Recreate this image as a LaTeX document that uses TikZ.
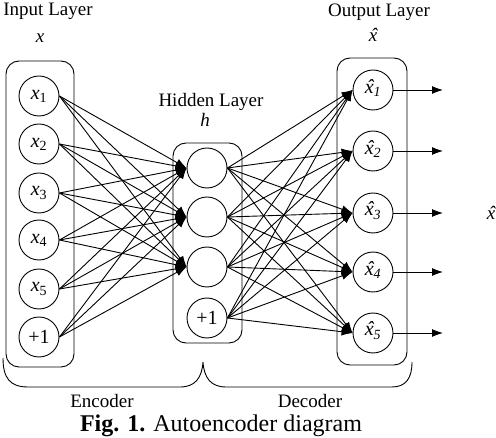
\documentclass[tikz,border=0pt]{standalone}
\usepackage{fontspec}
\setmainfont{Liberation Serif}
\usetikzlibrary{arrows.meta}
\tikzset{
  neuron/.style={circle,draw,line width=0.9pt,minimum size=40pt,inner sep=0pt,font=\fontsize{20}{22}\selectfont},
  layerbox/.style={draw,line width=0.9pt,rounded corners=13pt},
  lbl/.style={anchor=base,inner sep=0pt,font=\fontsize{19}{21}\selectfont},
  conn/.style={line width=0.9pt,-{Latex[length=11pt,width=8pt]}},
}
\newcommand{\xh}{{\itshape\ooalign{x\cr\hidewidth\kern0.1em\char"02C6\hidewidth\cr}}}
\newcommand{\xin}[1]{\textit{x}\textsubscript{#1}}
\newcommand{\xout}[1]{\xh\textsubscript{\textit{#1}}}
\begin{document}
\begin{tikzpicture}[x=1pt,y=-1pt]
\useasboundingbox (0,0) rectangle (496,438);
% boxes
\draw[layerbox] (6,61) rectangle (74,367);
\draw[layerbox] (173,143) rectangle (242,343);
\draw[layerbox] (337,58) rectangle (407,365);
% input nodes
\node[neuron] (i1) at (39,96) {\xin{1}};
\node[neuron] (i2) at (39,144) {\xin{2}};
\node[neuron] (i3) at (39,193) {\xin{3}};
\node[neuron] (i4) at (39,240) {\xin{4}};
\node[neuron] (i5) at (39,289) {\xin{5}};
\node[neuron] (i6) at (39,337) {+1};
% hidden nodes
\node[neuron] (h1) at (207,168) {};
\node[neuron] (h2) at (207,217) {};
\node[neuron] (h3) at (207,267) {};
\node[neuron] (h4) at (207,318) {+1};
% output nodes
\node[neuron] (o1) at (373,90) {\xout{1}};
\node[neuron] (o2) at (373,151) {\xout{2}};
\node[neuron] (o3) at (373,213) {\xout{3}};
\node[neuron] (o4) at (373,272) {\xout{4}};
\node[neuron] (o5) at (373,333) {\xout{5}};
% connections
\foreach \i in {1,...,6}
  \foreach \h in {1,2,3}
    \draw[conn] (i\i.east) -- (h\h.west);
\foreach \h in {1,...,4}
  \foreach \o in {1,...,5}
    \draw[conn] (h\h.east) -- (o\o.west);
\foreach \o/\y in {1/90,2/151,3/213,4/272,5/333}{
  \coordinate (e\o) at (443,\y);
  \draw[conn] (o\o.east) -- (e\o);
}
% labels
\node[lbl] (til) at (48,16) {Input Layer};
\node[lbl] (tx) at (40,43) {\textit{x}};
\node[lbl] (thl) at (211,107) {Hidden Layer};
\node[lbl] (th) at (205,127) {\textit{h}};
\node[lbl] (tol) at (379,17) {Output Layer};
\node[lbl] (txh) at (373,42) {\xh};
\node[lbl] (txr) at (491,220) {\xh};
% brace
\draw[line width=0.9pt] (3,358) .. controls (3,378) and (10,387) .. (28,387) -- (180,387)
  .. controls (195,387) and (202,378) .. (203,362)
  .. controls (204,378) and (211,387) .. (226,387) -- (392,387)
  .. controls (406,387) and (412,378) .. (412,362);
\node[lbl] (tenc) at (102,408) {Encoder};
\node[lbl] (tdec) at (310,408) {Decoder};
\node[lbl,font=\fontsize{24}{26}\selectfont] (cap) at (221,432) {\textbf{Fig. 1.} Autoencoder diagram};
\end{tikzpicture}
\end{document}
